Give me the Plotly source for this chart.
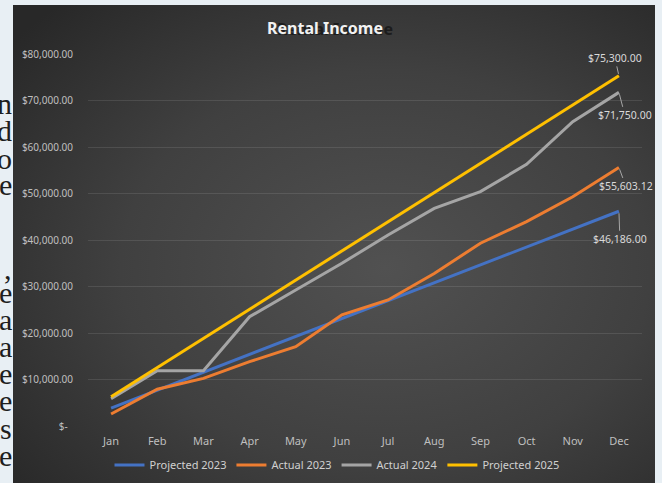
import base64
import plotly.graph_objects as go

months = ["Jan", "Feb", "Mar", "Apr", "May", "Jun", "Jul", "Aug", "Sep", "Oct", "Nov", "Dec"]
projected_2023 = [3849, 7698, 11547, 15395, 19244, 23093, 26942, 30791, 34640, 38488, 42337, 46186]
actual_2023 = [2580, 7900, 10250, 13830, 17050, 23900, 27100, 32800, 39300, 43940, 49300, 55603.12]
actual_2024 = [5870, 11900, 11900, 23500, 29250, 35000, 41080, 46800, 50400, 56270, 65440, 71750]
projected_2025 = [6275, 12550, 18825, 25100, 31375, 37650, 43925, 50200, 56475, 62750, 69025, 75300]
y_tick_vals = [0, 10000, 20000, 30000, 40000, 50000, 60000, 70000, 80000]
y_tick_text = ["$-\u00a0\u00a0", "$10,000.00", "$20,000.00", "$30,000.00", "$40,000.00",
               "$50,000.00", "$60,000.00", "$70,000.00", "$80,000.00"]
side_letters = ["n", "d", "o", "e", ",", "e", "a", "a", "e", "e", "s", "e"]
side_letter_y = [103, 130, 158, 184, 268, 292, 319, 346, 373, 400, 428, 455]

W, H = 662, 483
L, R, T, B = 88, 20, 54, 57
pw, ph = W - L - R, H - T - B

def px_x(p):
    return (p - L) / pw

def px_y(p):
    return (H - B - p) / ph

svg = (
    '<svg xmlns="http://www.w3.org/2000/svg" width="642" height="478">'
    '<defs><radialGradient id="g" cx="58%" cy="55%" r="75%">'
    '<stop offset="0%" stop-color="#515151"/><stop offset="55%" stop-color="#404040"/>'
    '<stop offset="100%" stop-color="#282828"/></radialGradient></defs>'
    '<rect x="0" y="0" width="642" height="478" fill="url(#g)"/></svg>'
)
src = "data:image/svg+xml;base64," + base64.b64encode(svg.encode()).decode()

fig = go.Figure()
series = [
    ("Projected 2023", projected_2023, "#4472C4"),
    ("Actual 2023", actual_2023, "#ED7D31"),
    ("Actual 2024", actual_2024, "#A5A5A5"),
    ("Projected 2025", projected_2025, "#FFC000"),
]
for name, vals, col in series:
    fig.add_trace(go.Scatter(x=months, y=vals, mode="lines", name=name,
                             line=dict(color=col, width=3), hoverinfo="skip"))

# end labels
label_offsets = [(projected_2025, "$75,300.00", -4, -18),
                 (actual_2024, "$71,750.00", 6, 23),
                 (actual_2023, "$55,603.12", 7, 19),
                 (projected_2023, "$46,186.00", 1, 28)]
for vals, txt, ax, ay in label_offsets:
    fig.add_annotation(x=months[-1], y=vals[-1], xref="x", yref="y", text=txt,
                       showarrow=True, arrowhead=0, arrowwidth=1, arrowcolor="#a6a6a6",
                       ax=ax, ay=ay, standoff=2,
                       font=dict(family="Noto Sans", size=10.5, color="#d9d9d9"))

# title with shadow
fig.add_annotation(x=px_x(335), y=px_y(29), xref="paper", yref="paper", text="<b>Rental Income</b>",
                   xanchor="center", yanchor="middle",
                   showarrow=False, font=dict(family="Noto Sans", size=16, color="#1c1c1c"))
fig.add_annotation(x=px_x(325), y=px_y(28), xref="paper", yref="paper", text="<b>Rental Income</b>",
                   xanchor="center", yanchor="middle",
                   showarrow=False, font=dict(family="Noto Sans", size=16, color="#f2f2f2"))

for ch, yy in zip(side_letters, side_letter_y):
    fig.add_annotation(x=px_x(14), y=px_y(yy), xref="paper", yref="paper", text=ch,
                       xanchor="right", yanchor="middle", showarrow=False,
                       font=dict(family="Liberation Serif", size=30, color="#1e1e1e"))

fig.add_layout_image(source=src, xref="paper", yref="paper",
                     x=px_x(13), y=px_y(5), sizex=px_x(655) - px_x(13), sizey=px_y(5) - px_y(483),
                     xanchor="left", yanchor="top", sizing="stretch", layer="below")

fig.update_layout(
    width=W, height=H,
    margin=dict(l=L, r=R, t=T, b=B, autoexpand=False),
    paper_bgcolor="#e8eff4",
    plot_bgcolor="rgba(0,0,0,0)",
    showlegend=True,
    legend=dict(orientation="h", xref="container", yref="container",
                x=337 / W, y=1 - 465 / H, xanchor="center", yanchor="middle",
                font=dict(family="Noto Sans", size=11, color="#d0d0d0"),
                bgcolor="rgba(0,0,0,0)", itemwidth=30, tracegroupgap=0),
    xaxis=dict(type="category", range=[-0.5, 11.5], showgrid=False, zeroline=False,
               showline=False, ticks="outside", ticklen=5, tickcolor="rgba(0,0,0,0)",
               tickfont=dict(family="Noto Sans", size=11, color="#bfbfbf")),
    yaxis=dict(range=[0, 80000], tickvals=y_tick_vals, ticktext=y_tick_text,
               showgrid=True, gridcolor="rgba(255,255,255,0.1)", gridwidth=1,
               zeroline=False, showline=False, ticks="outside", ticklen=12,
               tickcolor="rgba(0,0,0,0)",
               tickfont=dict(family="Noto Sans", size=10, color="#bfbfbf")),
)

fig.write_html("out.html", config={"displayModeBar": False},
               post_script="document.body.style.margin='0';document.body.style.overflow='hidden';")
